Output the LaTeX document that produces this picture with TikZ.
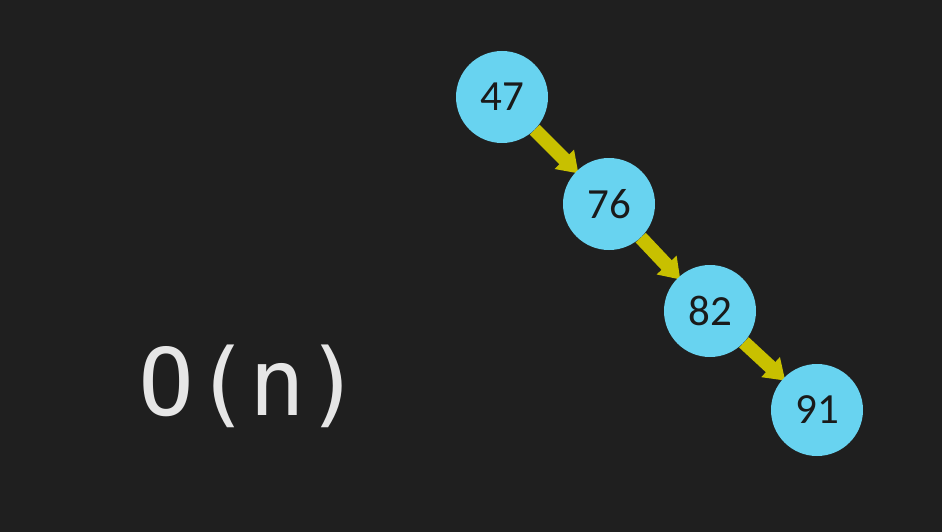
\documentclass[tikz,border=0pt]{standalone}
\usepackage{fontspec}
\setmainfont{Carlito}
\newfontfamily\monofnt{DejaVu Sans Mono}
\usetikzlibrary{arrows.meta}
\pgfdeclarelayer{bg}
\pgfsetlayers{bg,main}
\definecolor{bgc}{HTML}{1F1F1F}
\definecolor{nodec}{HTML}{68D3F0}
\definecolor{arrc}{HTML}{C8C000}
\definecolor{txtc}{HTML}{1A1A1A}
\definecolor{bigc}{HTML}{E6E6E6}
\tikzset{
  numnode/.style={circle, fill=nodec, minimum size=92pt, inner sep=0pt,
    text=txtc, font=\fontsize{43}{43}\selectfont},
  linkarrow/.style={draw=arrc, line width=14pt,
    -{Triangle[width=26pt, length=20pt]}, shorten >=-3pt}
}
\begin{document}
\begin{tikzpicture}[x=1pt, y=-1pt]
\useasboundingbox (0,0) rectangle (942,532);
\node[numnode] (n47) at (502,97) {47};
\node[numnode] (n76) at (609,204) {76};
\node[numnode] (n82) at (710,311) {82};
\node[numnode] (n91) at (817,410) {91};
\begin{pgfonlayer}{bg}
\fill[bgc] (0,0) rectangle (942,532);
\draw[linkarrow] (n47) -- (n76);
\draw[linkarrow] (n76) -- (n82);
\draw[linkarrow] (n82) -- (n91);
\end{pgfonlayer}
\node[text=bigc, font=\monofnt\fontsize{93}{93}\selectfont, anchor=base, inner sep=0pt] (bigo) at (250,415) {O(n)};
\end{tikzpicture}
\end{document}
